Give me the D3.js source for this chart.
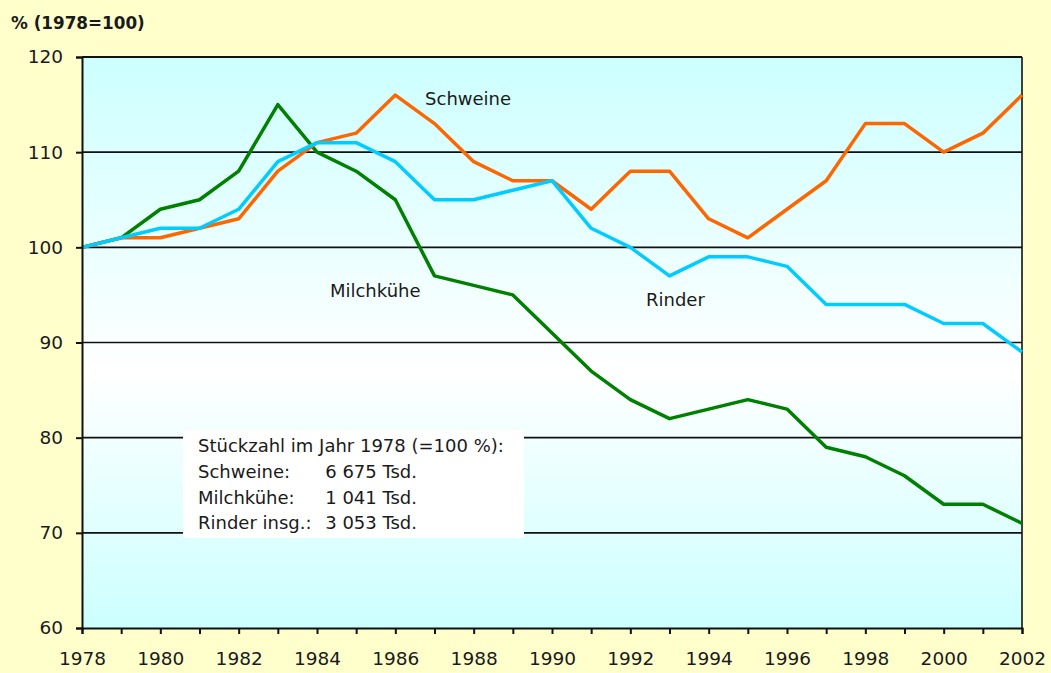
<!DOCTYPE html>
<html>
<head>
<meta charset="utf-8">
<script src="https://cdn.jsdelivr.net/npm/d3@7"></script>
<style>
  body { margin: 0; background: #ffffcc; }
  text { font-family: "DejaVu Sans", sans-serif; fill: #1a1a1a; }
</style>
</head>
<body>
<div id="chart"></div>
<script>
// Bestand 1978 = 100
var years = d3.range(1978, 2003);
var schweine = [100, 101, 101, 102, 103, 108, 111, 112, 116, 113, 109, 107, 107, 104, 108, 108, 103, 101, 104, 107, 113, 113, 110, 112, 116];
var rinder = [100, 101, 102, 102, 104, 109, 111, 111, 109, 105, 105, 106, 107, 102, 100, 97, 99, 99, 98, 94, 94, 94, 92, 92, 89];
var milchkuehe = [100, 101, 104, 105, 108, 115, 110, 108, 105, 97, 96, 95, 91, 87, 84, 82, 83, 84, 83, 79, 78, 76, 73, 73, 71];
var yTicks = [60, 70, 80, 90, 100, 110, 120];
var xTickLabels = d3.range(1978, 2003, 2);
var legendTitle = "Stückzahl im Jahr 1978 (=100 %):";
var legendNames = ["Schweine:", "Milchkühe:", "Rinder insg.:"];
var legendValues = ["6 675 Tsd.", "1 041 Tsd.", "3 053 Tsd."];

var FONT = "'DejaVu Sans', sans-serif";

function drawChart() {
	var W = 1051, H = 673;
	var margin = {top: 57, right: 29, bottom: 45, left: 82},
	w = W - margin.left - margin.right,
	h = H - margin.top - margin.bottom;

	var svgRoot = d3.select("#chart").append("svg")
		.attr("width", W)
		.attr("height", H)
		.style("display", "block");

	svgRoot.append("rect").attr("width", W).attr("height", H).attr("fill", "#ffffcc");

	var grad = svgRoot.append("defs").append("linearGradient")
		.attr("id", "bg").attr("x1", 0).attr("y1", 0).attr("x2", 0).attr("y2", 1);
	grad.append("stop").attr("offset", "0%").attr("stop-color", "#ccffff");
	grad.append("stop").attr("offset", "55%").attr("stop-color", "#ffffff");
	grad.append("stop").attr("offset", "100%").attr("stop-color", "#ccffff");

	var svg = svgRoot.append("g")
		.attr("transform", "translate(" + margin.left + "," + margin.top + ")");

	var xScale = d3.scaleLinear().domain([1978, 2002]).range([0, w]);
	var yScale = d3.scaleLinear().domain([60, 120]).range([h, 0]);

	svg.append("rect").attr("width", w).attr("height", h).attr("fill", "url(#bg)");

	// grid lines
	svg.selectAll("line.grid")
		.data(yTicks.filter(function(d){ return d > 60; }))
		.enter().append("line")
		.attr("class", "grid")
		.attr("x1", 0).attr("x2", w)
		.attr("y1", function(d){ return yScale(d); })
		.attr("y2", function(d){ return yScale(d); })
		.attr("stroke", "#111").attr("stroke-width", 1.6);

	// right border
	svg.append("line").attr("x1", w).attr("x2", w).attr("y1", 0).attr("y2", h)
		.attr("stroke", "#111").attr("stroke-width", 1.6);

	// legend box
	var lg = svg.append("g").attr("transform", "translate(" + (183 - margin.left) + "," + (430 - margin.top) + ")");
	lg.append("rect").attr("width", 341).attr("height", 108).attr("fill", "#ffffff");
	lg.append("text").attr("x", 15).attr("y", 22).attr("font-size", 18).text(legendTitle);
	lg.selectAll("text.nm").data(legendNames).enter().append("text")
		.attr("class", "nm")
		.attr("x", 15)
		.attr("y", function(d, i){ return 22 + (i + 1) * 25.8; })
		.attr("font-size", 18)
		.text(function(d){ return d; });
	lg.selectAll("text.val").data(legendValues).enter().append("text")
		.attr("class", "val")
		.attr("x", 234)
		.attr("y", function(d, i){ return 22 + (i + 1) * 25.8; })
		.attr("text-anchor", "end")
		.attr("font-size", 18)
		.text(function(d){ return d; });

	var line = d3.line()
		.x(function(d, i){ return xScale(years[i]); })
		.y(function(d){ return yScale(d); });

	var series = [
		{values: milchkuehe, color: "#008000"},
		{values: schweine, color: "#ff6600"},
		{values: rinder, color: "#00ccff"}
	];
	svg.selectAll("path.series").data(series).enter().append("path")
		.attr("class", "series")
		.attr("d", function(d){ return line(d.values); })
		.attr("fill", "none")
		.attr("stroke", function(d){ return d.color; })
		.attr("stroke-width", 3.5)
		.attr("stroke-linejoin", "round");

	// series labels
	var labels = [
		{text: "Schweine", year: 1986.76, value: 115.0},
		{text: "Milchkühe", year: 1984.33, value: 94.8},
		{text: "Rinder", year: 1992.4, value: 93.8}
	];
	svg.selectAll("text.lab").data(labels).enter().append("text")
		.attr("class", "lab")
		.attr("x", function(d){ return xScale(d.year); })
		.attr("y", function(d){ return yScale(d.value); })
		.attr("font-size", 18)
		.text(function(d){ return d.text; });

	// axes
	var yAxis = d3.axisLeft(yScale).tickValues(yTicks).tickSize(6).tickPadding(13);
	var gY = svg.append("g").call(yAxis);
	gY.select(".domain").attr("stroke", "#111").attr("stroke-width", 2);
	gY.selectAll(".tick line").attr("stroke", "#111").attr("stroke-width", 2);
	gY.selectAll(".tick text").attr("font-size", 18.5).attr("fill", "#1a1a1a").attr("font-family", FONT);

	var xAxis = d3.axisBottom(xScale).tickValues(years).tickSize(6).tickPadding(18)
		.tickFormat(function(d){ return xTickLabels.indexOf(d) >= 0 ? d : ""; });
	var gX = svg.append("g").attr("transform", "translate(0," + h + ")").call(xAxis);
	gX.select(".domain").attr("stroke", "#111").attr("stroke-width", 2);
	gX.selectAll(".tick line").attr("stroke", "#111").attr("stroke-width", 2);
	gX.selectAll(".tick text").attr("font-size", 18.5).attr("fill", "#1a1a1a").attr("font-family", FONT);

	// top border
	svg.append("line").attr("x1", 0).attr("x2", w).attr("y1", 0).attr("y2", 0)
		.attr("stroke", "#111").attr("stroke-width", 2);

	svgRoot.append("text")
		.attr("x", 11).attr("y", 29)
		.attr("font-size", 16.8).attr("font-weight", "bold")
		.text("% (1978=100)");
}

drawChart();
</script>
</body>
</html>
